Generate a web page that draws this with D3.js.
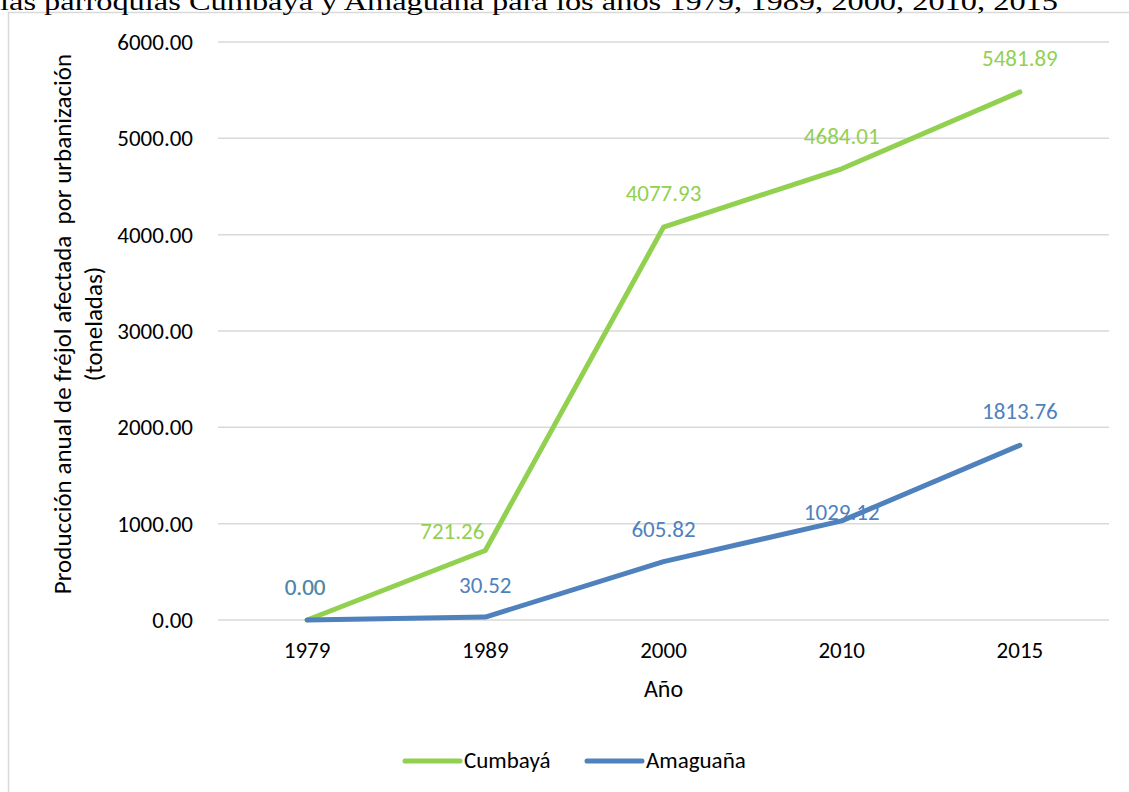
<!DOCTYPE html>
<html>
<head>
<meta charset="utf-8">
<script src="https://cdn.jsdelivr.net/npm/d3@7"></script>
<style>
  body { margin: 0; background: #fff; }
  svg { display: block; }
  .tick text { font-family: Calibri, Carlito, Lato, sans-serif; }
</style>
</head>
<body>
<div id="chart"></div>
<script>
// data
const years = ["1979", "1989", "2000", "2010", "2015"];
const cumbaya = [0.00, 721.26, 4077.93, 4684.01, 5481.89];
const amaguana = [0.00, 30.52, 605.82, 1029.12, 1813.76];
const yTicks = [0, 1000, 2000, 3000, 4000, 5000, 6000];

const series = [
  { name: "Cumbayá", values: cumbaya, color: "#92D050" },
  { name: "Amaguaña", values: amaguana, color: "#4F81BD" }
];

// label nudges (px) from each point, as placed in the original chart
const labelShift = {
  "Cumbayá": [[-2, -25], [-33, -12], [0, -26], [0, -25], [0, -26]],
  "Amaguaña": [[-2, -25], [0, -24], [0, -25], [0, -1], [0, -26]]
};

const width = 1129, height = 792;
const margin = { top: 42, bottom: 172, left: 218, right: 20 };
const font = "Calibri, Carlito, Lato, sans-serif";
const fs = 23;

const svg = d3.select("#chart").append("svg")
  .attr("width", width)
  .attr("height", height);

// chart frame
svg.append("rect")
  .attr("x", 8.5).attr("y", 12.5)
  .attr("width", 1140).attr("height", 800)
  .attr("fill", "none")
  .attr("stroke", "#d9d9d9")
  .attr("stroke-width", 1.5);

// caption cut at the top
svg.append("text")
  .attr("x", 0).attr("y", 10)
  .attr("font-family", "'Times New Roman', 'Liberation Serif', serif")
  .attr("font-size", 25)
  .attr("textLength", 1058)
  .attr("lengthAdjust", "spacingAndGlyphs")
  .attr("fill", "#000")
  .text("las parroquias Cumbayá y Amaguaña para los años 1979, 1989, 2000, 2010, 2015");

const xScale = d3.scaleBand()
  .domain(years)
  .range([margin.left, 1109]);

const yScale = d3.scaleLinear()
  .domain([0, 6000])
  .range([620, margin.top]);

// grid
svg.append("g")
  .selectAll("line")
  .data(yTicks)
  .enter().append("line")
  .attr("x1", margin.left)
  .attr("x2", 1109)
  .attr("y1", d => yScale(d))
  .attr("y2", d => yScale(d))
  .attr("stroke", "#d9d9d9")
  .attr("stroke-width", 1.5);

// y axis
const yAxis = d3.axisLeft(yScale)
  .tickValues(yTicks)
  .tickFormat(d3.format(".2f"))
  .tickSize(0)
  .tickPadding(25);

svg.append("g")
  .attr("transform", `translate(${margin.left},0)`)
  .call(yAxis)
  .call(g => g.select(".domain").remove())
  .selectAll("text")
  .attr("font-size", fs)
  .attr("fill", "#000");

// x axis
const xAxis = d3.axisBottom(xScale).tickSize(0).tickPadding(22);

svg.append("g")
  .attr("transform", `translate(0,620)`)
  .call(xAxis)
  .call(g => g.select(".domain").remove())
  .selectAll("text")
  .attr("font-size", fs)
  .attr("fill", "#000");

// axis titles
svg.append("text")
  .attr("x", xScale("2000") + xScale.bandwidth() / 2)
  .attr("y", 697)
  .attr("text-anchor", "middle")
  .attr("font-family", font)
  .attr("font-size", 24)
  .text("Año");

const yTitle = svg.append("text")
  .attr("transform", `translate(71,324) rotate(-90)`)
  .attr("text-anchor", "middle")
  .attr("font-family", font)
  .attr("font-size", 25)
  .attr("xml:space", "preserve");
yTitle.append("tspan").attr("x", 0).attr("dy", 0)
  .text("Producción anual de fréjol afectada  por urbanización");
yTitle.append("tspan").attr("x", 0).attr("dy", 31).text("(toneladas)");

// lines
const line = d3.line()
  .x((d, i) => xScale(years[i]) + xScale.bandwidth() / 2)
  .y(d => yScale(d));

svg.append("g")
  .selectAll("path")
  .data(series)
  .enter().append("path")
  .attr("d", d => line(d.values))
  .attr("fill", "none")
  .attr("stroke", d => d.color)
  .attr("stroke-width", 5)
  .attr("stroke-linecap", "round")
  .attr("stroke-linejoin", "round");

// data labels
series.forEach(s => {
  svg.append("g")
    .selectAll("text")
    .data(s.values)
    .enter().append("text")
    .attr("x", (d, i) => xScale(years[i]) + xScale.bandwidth() / 2 + labelShift[s.name][i][0])
    .attr("y", (d, i) => yScale(d) + labelShift[s.name][i][1])
    .attr("text-anchor", "middle")
    .attr("font-family", font)
    .attr("font-size", fs)
    .attr("fill", s.color)
    .text(d => d3.format(".2f")(d));
});

// legend
const legend = svg.append("g")
  .selectAll("g")
  .data(series)
  .enter().append("g")
  .attr("transform", (d, i) => `translate(${405 + i * 182},761)`);

legend.append("line")
  .attr("x1", 0).attr("x2", 55)
  .attr("y1", 0).attr("y2", 0)
  .attr("stroke", d => d.color)
  .attr("stroke-width", 5)
  .attr("stroke-linecap", "round");

legend.append("text")
  .attr("x", 59)
  .attr("y", 7)
  .attr("font-family", font)
  .attr("font-size", fs)
  .text(d => d.name);
</script>
</body>
</html>
